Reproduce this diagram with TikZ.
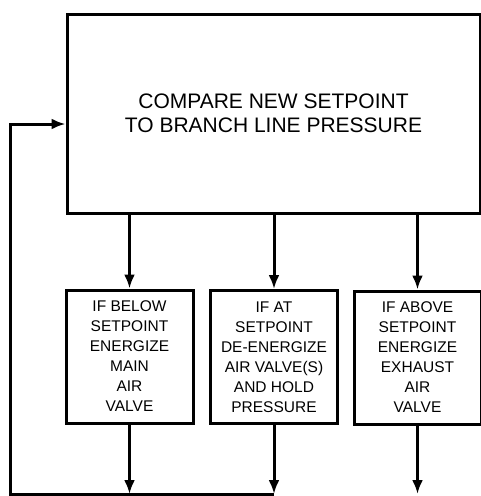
\documentclass[tikz,border=0pt]{standalone}
\usepackage{fontspec}
\setmainfont{Liberation Sans}
\usetikzlibrary{arrows.meta,positioning}
\tikzset{
  box/.style={draw, line width=3pt, align=center, inner sep=0pt},
  bigbox/.style={box, minimum width=413pt, minimum height=199pt, font=\fontsize{21}{24}\selectfont},
  stepbox/.style={box, minimum width=127pt, minimum height=133pt, font=\fontsize{15.5}{20}\selectfont},
  fl/.style={-{Latex[length=14pt,width=11pt]}, line width=3pt},
}
\begin{document}
\begin{tikzpicture}[x=1pt, y=1pt]
  \useasboundingbox (0,0) rectangle (480,-496);
  \node[bigbox] (cmp) at (273.5,-113.5) {COMPARE NEW SETPOINT\\TO BRANCH LINE PRESSURE};
  \node[stepbox] (below) at (129.5,-356.5) {IF BELOW\\SETPOINT\\ENERGIZE\\MAIN\\AIR\\VALVE};
  \node[stepbox] (at) at (274,-357) {IF AT\\SETPOINT\\DE-ENERGIZE\\AIR VALVE(S)\\AND HOLD\\PRESSURE};
  \node[stepbox] (above) at (417.5,-357.5) {IF ABOVE\\SETPOINT\\ENERGIZE\\EXHAUST\\AIR\\VALVE};
  % outputs to the return line
  \coordinate (e1) at (below.south |- 0,-494);
  \coordinate (e2) at (at.south |- 0,-494);
  \coordinate (e3) at (above.south |- 0,-494);
  \coordinate (fb) at (10,-124);
  \foreach \n/\e in {below/e1, at/e2, above/e3}{
    \draw[fl] (\n.north |- cmp.south) -- (\n.north);
    \draw[fl] (\n.south) -- (\e);
  }
  % feedback
  \draw[fl] (e2) -- (e2 -| fb) -- (fb) -- (fb -| cmp.west);
\end{tikzpicture}
\end{document}
